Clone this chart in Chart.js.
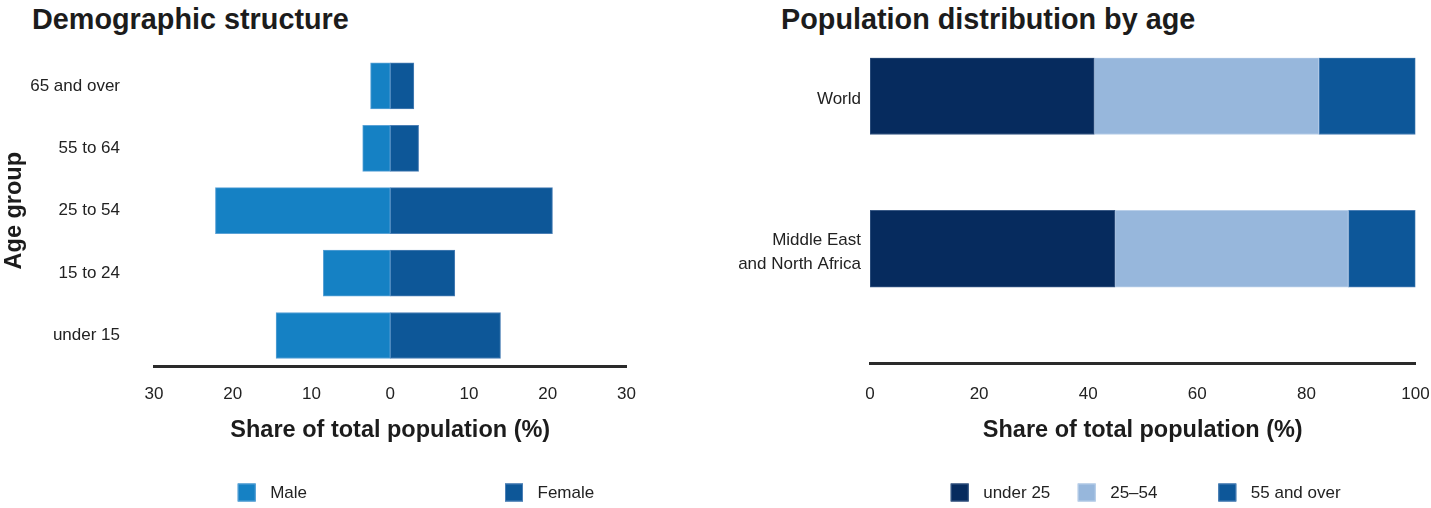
<!DOCTYPE html>
<html>
<head>
<meta charset="utf-8">
<script src="https://cdn.jsdelivr.net/npm/chart.js@4.4.1/dist/chart.umd.min.js"></script>
<style>
  body { margin: 0; width: 1431px; height: 508px; background: #fff; position: relative; overflow: hidden; }
  h2 {
    position: absolute; top: 5px; margin: 0;
    font: bold 28.8px/28px 'Liberation Sans', Arial, sans-serif; color: #1c1c1c;
  }
  canvas { position: absolute; top: 0; }
  #pyramid { left: 0; }
  #byAge { left: 700px; }
</style>
</head>
<body>
<h2 style="left:32px">Demographic structure</h2>
<h2 style="left:781px">Population distribution by age</h2>
<canvas id="pyramid" width="700" height="508"></canvas>
<canvas id="byAge" width="731" height="508"></canvas>
<script>
// age pyramid, % of total population
const ageGroups = ['65 and over', '55 to 64', '25 to 54', '15 to 24', 'under 15'];
const maleShare = [2.5, 3.5, 22.2, 8.5, 14.5];
const femaleShare = [3.0, 3.6, 20.6, 8.2, 14.0];

// age split by region, % of total population
const regions = ['World', ['Middle East', 'and North Africa']];
const under25 = [41.1, 44.9];
const age25to54 = [41.2, 42.8];
const age55plus = [17.7, 12.3];

const axisTitleFont = { family: "'Liberation Sans', Arial, sans-serif", size: 23.5, weight: 'bold' };
Chart.defaults.font.family = "'Liberation Sans', Arial, sans-serif";
Chart.defaults.font.size = 17;
Chart.defaults.color = '#222';

// legend drawn as a row of squares under the axis title
const rowLegend = {
  id: 'rowLegend',
  afterDraw(chart, args, opts) {
    const { ctx, chartArea } = chart;
    ctx.save();
    ctx.font = "17px " + Chart.defaults.font.family;
    ctx.textBaseline = 'middle';
    chart.data.datasets.forEach((ds, i) => {
      const x = chartArea.left + opts.offsets[i];
      ctx.fillStyle = ds.backgroundColor;
      ctx.fillRect(x, opts.y - 9, 18, 18);
      ctx.strokeStyle = ds.borderColor;
      ctx.lineWidth = 1;
      ctx.strokeRect(x + 0.5, opts.y - 8.5, 17, 17);
      ctx.fillStyle = '#222';
      ctx.fillText(ds.label, x + 32.5, opts.y + 1);
    });
    ctx.restore();
  }
};

// keep tick label overhang from eating into the plot width
const noLabelPadding = s => { s.paddingLeft = 0; s.paddingRight = 0; };

const common = {
  indexAxis: 'y',
  responsive: false,
  animation: false,
  events: [],
};

new Chart(document.getElementById('pyramid'), {
  type: 'bar',
  data: {
    labels: ageGroups,
    datasets: [
      { label: 'Male', data: maleShare.map(v => -v), backgroundColor: '#1581C4', borderColor: '#5AA2D6' },
      { label: 'Female', data: femaleShare, backgroundColor: '#0D5798', borderColor: '#4B7FB5' }
    ]
  },
  options: {
    ...common,
    layout: { padding: { top: 54.7, bottom: 63, left: 0, right: 73.5 } },
    datasets: { bar: { barThickness: 46, borderWidth: 1, borderSkipped: false } },
    scales: {
      x: {
        stacked: true, min: -30, max: 30,
        grid: { display: false, drawTicks: false },
        border: { color: '#2a2a2a', width: 3 },
        ticks: { stepSize: 10, padding: 17.8, maxRotation: 0, callback: v => Math.abs(v) },
        title: { display: true, text: 'Share of total population (%)', font: axisTitleFont, color: '#1c1c1c', padding: 0 },
        afterFit: s => { s.height = 78.3; noLabelPadding(s); }
      },
      y: {
        stacked: true,
        grid: { display: false, drawTicks: false },
        border: { display: false },
        ticks: { padding: 34 },
        title: { display: true, text: 'Age group', font: axisTitleFont, color: '#1c1c1c', padding: 0 },
        afterFit: s => { s.width = 154; }
      }
    },
    plugins: {
      legend: { display: false },
      tooltip: { enabled: false },
      rowLegend: { offsets: [83.7, 351], y: 492.5 }
    }
  },
  plugins: [rowLegend]
});

const toPoints = arr => arr.map((v, i) => ({ x: v, y: i }));

new Chart(document.getElementById('byAge'), {
  type: 'bar',
  data: {
    datasets: [
      { label: 'under 25', data: toPoints(under25), backgroundColor: '#062B5E', borderColor: '#3A5A86' },
      { label: '25–54', data: toPoints(age25to54), backgroundColor: '#97B7DC', borderColor: '#B9CFE9' },
      { label: '55 and over', data: toPoints(age55plus), backgroundColor: '#0D5799', borderColor: '#4B7FB5' }
    ]
  },
  options: {
    ...common,
    layout: { padding: { top: 57.8, bottom: 63, left: 0, right: 15.5 } },
    datasets: { bar: { barThickness: 77, borderWidth: 1, borderSkipped: false } },
    scales: {
      x: {
        stacked: true, min: 0, max: 100,
        grid: { display: false, drawTicks: false },
        border: { color: '#2a2a2a', width: 3 },
        ticks: { stepSize: 20, padding: 21.2, maxRotation: 0 },
        title: { display: true, text: 'Share of total population (%)', font: axisTitleFont, color: '#1c1c1c', padding: 0 },
        afterFit: s => { s.height = 81.7; noLabelPadding(s); }
      },
      y: {
        type: 'linear', stacked: true, reverse: true, offset: false,
        min: -0.25, max: 1.75,
        grid: { display: false, drawTicks: false },
        border: { display: false },
        afterBuildTicks: s => { s.ticks = regions.map((r, i) => ({ value: i })); },
        ticks: { padding: 9, labelOffset: 3.5, font: { lineHeight: 1.45 }, callback: v => regions[v] },
        afterFit: s => { s.width = 170; }
      }
    },
    plugins: {
      legend: { display: false },
      tooltip: { enabled: false },
      rowLegend: { offsets: [80.7, 207.7, 348.3], y: 492.5 }
    }
  },
  plugins: [rowLegend]
});
</script>
</body>
</html>
